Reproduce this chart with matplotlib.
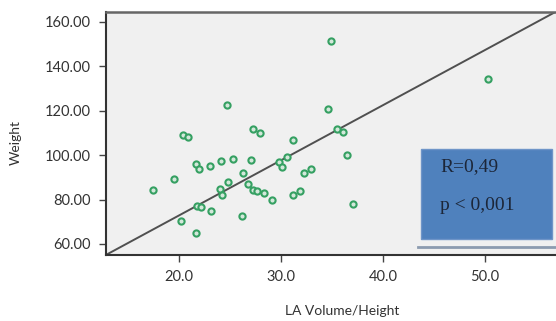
import matplotlib
matplotlib.use("Agg")
import matplotlib.pyplot as plt
from matplotlib.patches import Rectangle
from matplotlib.lines import Line2D
import numpy as np

# data
la_volume = [34.94, 24.68, 34.58, 20.33, 20.85, 27.19, 27.88, 35.49, 36.05, 31.12,
             36.5, 21.64, 21.96, 23.0, 24.09, 25.29, 27.09, 29.77, 30.59, 30.1,
             26.27, 32.23, 32.98, 19.48, 17.45, 24.77, 26.77, 23.99, 24.22, 27.25,
             27.6, 28.33, 29.12, 31.18, 31.83, 21.7, 22.13, 23.14, 20.2, 26.18,
             21.64, 50.36, 37.06]
weight = [151.4, 122.5, 121.0, 109.2, 108.2, 111.7, 109.8, 112.0, 110.5, 106.8,
          100.1, 95.9, 93.9, 95.1, 97.5, 98.2, 97.8, 96.8, 99.3, 94.5,
          92.0, 91.8, 93.8, 89.1, 84.3, 87.8, 86.9, 84.9, 82.1, 84.3,
          84.0, 82.8, 80.0, 82.1, 84.0, 77.3, 76.7, 74.7, 70.2, 72.6,
          64.8, 134.2, 77.9]
fit_intercept = 23.3
fit_slope = 2.48

x_ticks = [20, 30, 40, 50]
y_ticks = [60, 80, 100, 120, 140, 160]
stat_lines = ["R=0,49", "p < 0,001"]

plt.rcParams['font.family'] = ['Lato', 'DejaVu Sans']

fig = plt.figure(figsize=(5.56, 3.21), dpi=100)
ax = fig.add_axes([106/556, 1-255/321, 1-106/556, (255-12)/321])
ax.set_facecolor('#f0f0f0')

ax.scatter(la_volume, weight, s=20, facecolors='#d3e8da', edgecolors='#35a062',
           linewidths=1.5, zorder=3)

xlim = (12.8, 57.0)
xs = np.array(xlim)
ax.plot(xs, fit_intercept + fit_slope*xs, color='#505050', lw=1.4, zorder=2)

ax.set_xlim(*xlim)
ax.set_ylim(55.0, 164.5)
ax.set_xticks(x_ticks)
ax.set_xticklabels([f"{v:.1f}" for v in x_ticks])
ax.set_yticks(y_ticks)
ax.set_yticklabels([f"{v:.2f}" for v in y_ticks])
ax.tick_params(direction='out', length=5, width=1, color='#444', labelsize=10.5,
               labelcolor='#333', pad=6)

for s in ['left', 'bottom']:
    ax.spines[s].set_color('#333')
    ax.spines[s].set_linewidth(1.5)
ax.spines['top'].set_color('#666')
ax.spines['top'].set_linewidth(1.8)
ax.spines['right'].set_visible(False)

fig.text(15.7/556, 1-143/321, "Weight", rotation=90, ha='center', va='center',
         fontsize=10, color='#333')
fig.text(341.7/556, 1-311/321, "LA Volume/Height", ha='center', va='center',
         fontsize=10, color='#333')

# stats box
fig.add_artist(Rectangle((421/556, 1-239.3/321), 131/556, 90/321,
                         transform=fig.transFigure, facecolor='#4f81bd',
                         edgecolor='#6f95c8', lw=1, zorder=5))
fig.add_artist(Line2D([418/556, 1.0], [1-246.7/321]*2, transform=fig.transFigure,
                      color='#8c9bb0', lw=2, zorder=5))
fig.text(440/556, 1-167/321, stat_lines[0], ha='left', va='center', fontsize=14,
         family='Liberation Serif', color='#1c2638', zorder=6)
fig.text(440/556, 1-205/321, stat_lines[1], ha='left', va='center', fontsize=14,
         family='Liberation Serif', color='#1c2638', zorder=6)

fig.savefig("out.png", dpi=100)
